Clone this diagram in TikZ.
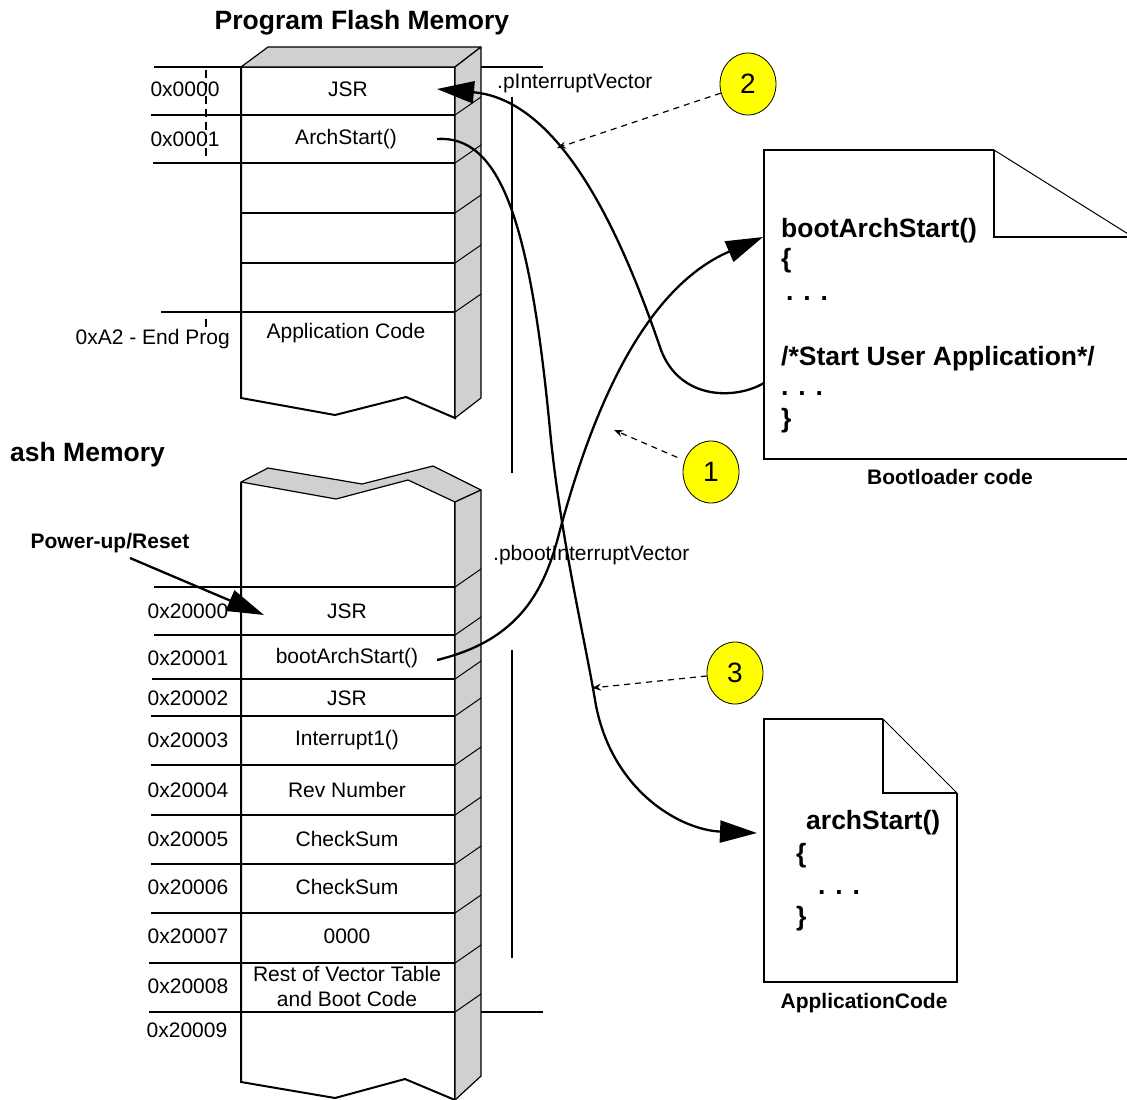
\documentclass[tikz,border=0pt]{standalone}
\usepackage{fontspec}
\setmainfont{Liberation Sans}
\usetikzlibrary{shapes.geometric}
\usetikzlibrary{positioning}
\usetikzlibrary{arrows.meta}
\definecolor{side-gray}{HTML}{D0D0D0}
\definecolor{step-yellow}{HTML}{FFFF00}
\tikzset{
  mem-line/.style={line width=2pt},
  mem-face/.style={draw, fill=side-gray, line width=1.2pt, line join=round},
  mem-tick/.style={line width=1pt},
  cell-text/.style={font=\fontsize{21}{25}\selectfont, inner sep=0pt, align=center},
  bold-text/.style={font=\fontsize{21}{25}\selectfont\bfseries, inner sep=0pt, anchor=base},
  title-text/.style={font=\fontsize{26.5}{30}\selectfont\bfseries, inner sep=0pt},
  code-text/.style={font=\fontsize{26.5}{30}\selectfont\bfseries, inner sep=0pt, anchor=base west},
  doc-page/.style={line width=2pt},
  doc-fold/.style={line width=1pt},
  flow-path/.style={line width=2.3pt, -{Triangle[length=37pt,width=22pt]}},
  callout-path/.style={line width=1.2pt, dash pattern=on 6pt off 5pt, -{Stealth[length=9pt,width=7pt]}},
  step-num/.style={ellipse, draw, fill=step-yellow, line width=0.8pt, minimum width=56pt,
    minimum height=62pt, inner sep=0pt, font=\fontsize{28}{30}\selectfont},
}

\begin{document}
\begin{tikzpicture}[x=1pt, y=-1pt]
\path[use as bounding box, clip] (0,0) rectangle (1127,1100);

% program flash memory block
\node[title-text, anchor=base] (pfm-title) at (362,29) {Program Flash Memory};
\draw[mem-line] (154,67) -- (543,67);
\foreach \y/\x in {115/151, 163/153, 213/241, 263/241, 312/161}
  \draw[mem-line] (\x,\y) -- (455,\y);
\draw[mem-line] (241,67) -- (241,398) -- (335,415) -- (406,397) -- (455,418) -- (455,67);
\draw[mem-face] (241,67) -- (268,47) -- (481,47) -- (455,67) -- cycle;
\draw[mem-face] (455,67) -- (481,47) -- (481,398) -- (455,418) -- cycle;
\foreach \y in {115,163,213,263,312}
  \draw[mem-tick] (455,\y) -- (481,\y-18);
\draw[mem-line, dash pattern=on 8pt off 5pt] (206,70) -- (206,160);
\draw[mem-line] (206,319) -- (206,327);
\node[cell-text] (pfm-addr-1) at (185,89) {0x0000};
\node[cell-text] (pfm-addr-2) at (185,139) {0x0001};
\node[cell-text, anchor=base east] (pfm-addr-end) at (230,344) {0xA2 - End Prog};
\node[cell-text] (pfm-cell-1) at (348,89) {JSR};
\node[cell-text] (pfm-cell-2) at (346,139) {ArchStart()};
\node[cell-text] (pfm-cell-app) at (346,333) {Application Code};
\node[cell-text, anchor=base west] (pvec-lbl) at (497,88) {.pInterruptVector};
\draw[mem-line] (512,97) -- (512,473);

% boot flash memory block
\node[title-text, anchor=base west] (bfm-title) at (10,461) {ash Memory};
\draw[mem-line] (149,1012) -- (543,1012);
\foreach \y/\x in {587/154, 635/154, 679/152, 716/151, 765/151, 815/151, 864/151, 913/151, 963/149}
  \draw[mem-line] (\x,\y) -- (455,\y);
\draw[mem-line] (455,502) -- (455,1100) -- (405,1079) -- (335,1098) -- (241,1082) -- (241,482);
\draw[mem-face] (241,482) -- (268,468) -- (362,484) -- (433,466) -- (481,490) -- (455,502)
  -- (408,480) -- (336,499) -- cycle;
\draw[mem-face] (455,502) -- (481,490) -- (481,1076) -- (455,1100) -- cycle;
\foreach \y in {587,635,679,716,765,815,864,913,963,1012}
  \draw[mem-tick] (455,\y) -- (481,\y-18);
\foreach \y/\addr/\cell [count=\i] in {611/0x20000/JSR, 658/0x20001/bootArchStart(),
    698/0x20002/JSR, 740/0x20003/Interrupt1(), 790/0x20004/Rev Number,
    839/0x20005/CheckSum, 887/0x20006/CheckSum, 936/0x20007/0000,
    986/0x20008/{Rest of Vector Table\\and Boot Code}} {
  \node[cell-text] (bfm-addr-\i) at (188,\y) {\addr};
  \node[cell-text] (bfm-cell-\i) at (347,\y) {\cell};
}
\node[cell-text] (bfm-addr-10) at (187,1030) {0x20009};
\node[cell-text, anchor=base west] (pbvec-lbl) at (493,560) {.pbootInterruptVector};
\draw[mem-line] (512,650) -- (512,958);

% bootloader code page
\draw[doc-page] (994,150) -- (764,150) -- (764,459) -- (1133,459);
\draw[doc-fold] (994,150) -- (1133,237);
\draw[doc-page] (994,150) -- (994,237) -- (1133,237);
\node[code-text] (boot-fn) at (781,237) {bootArchStart()};
\node[code-text] (boot-open) at (781,267) {\{};
\node[code-text] (boot-dots-1) at (786,300) {. . .};
\node[code-text] (boot-call) at (781,365) {/*Start User Application*/};
\node[code-text] (boot-dots-2) at (781,395) {. . .};
\node[code-text] (boot-close) at (781,427) {\}};
\node[bold-text] (boot-lbl) at (950,484) {Bootloader code};

% application code page
\draw[doc-page] (883,719) -- (764,719) -- (764,982) -- (957,982) -- (957,793);
\draw[doc-fold] (883,719) -- (957,793);
\draw[doc-page] (883,719) -- (883,793) -- (957,793);
\node[code-text] (app-fn) at (806,829) {archStart()};
\node[code-text] (app-open) at (796,862) {\{};
\node[code-text] (app-dots) at (818,894) {. . .};
\node[code-text] (app-close) at (796,925) {\}};
\node[bold-text] (app-lbl) at (864,1008) {ApplicationCode};

% reset entry
\node[bold-text] (reset-lbl) at (110,548) {Power-up/Reset};
\coordinate (reset-out) at (130,558);
\coordinate (reset-in) at (264,615);
\draw[flow-path] (reset-out) -- (reset-in);

% flow between vectors and code
\coordinate (vec-jsr) at (437,89);
\coordinate (user-app) at (764,383);
\coordinate (arch-out) at (437,139);
\coordinate (app-in) at (757,833);
\coordinate (boot-out) at (437,660);
\coordinate (boot-in) at (763,237);
\draw[flow-path] (boot-out) .. controls (520,640) and (545,590) .. (560,530)
  .. controls (590,420) and (640,290) .. (boot-in);
\draw[flow-path] (user-app) .. controls (735,400) and (680,400) .. (661,350)
  .. controls (620,230) and (560,100) .. (vec-jsr);
\draw[flow-path] (arch-out) .. controls (500,135) and (530,220) .. (550,430)
  .. controls (560,535) and (585,640) .. (595,700)
  .. controls (610,790) and (680,830) .. (app-in);

% numbered steps
\node[step-num] (step-1) at (711,472) {1};
\node[step-num] (step-2) at (748,84) {2};
\node[step-num] (step-3) at (735,673) {3};
\coordinate (mark-1) at (614,430);
\coordinate (mark-2) at (557,148);
\coordinate (mark-3) at (592,688);
\draw[callout-path, shorten <=8pt] (step-1) -- (mark-1);
\draw[callout-path] (step-2) -- (mark-2);
\draw[callout-path] (step-3) -- (mark-3);
\end{tikzpicture}
\end{document}
